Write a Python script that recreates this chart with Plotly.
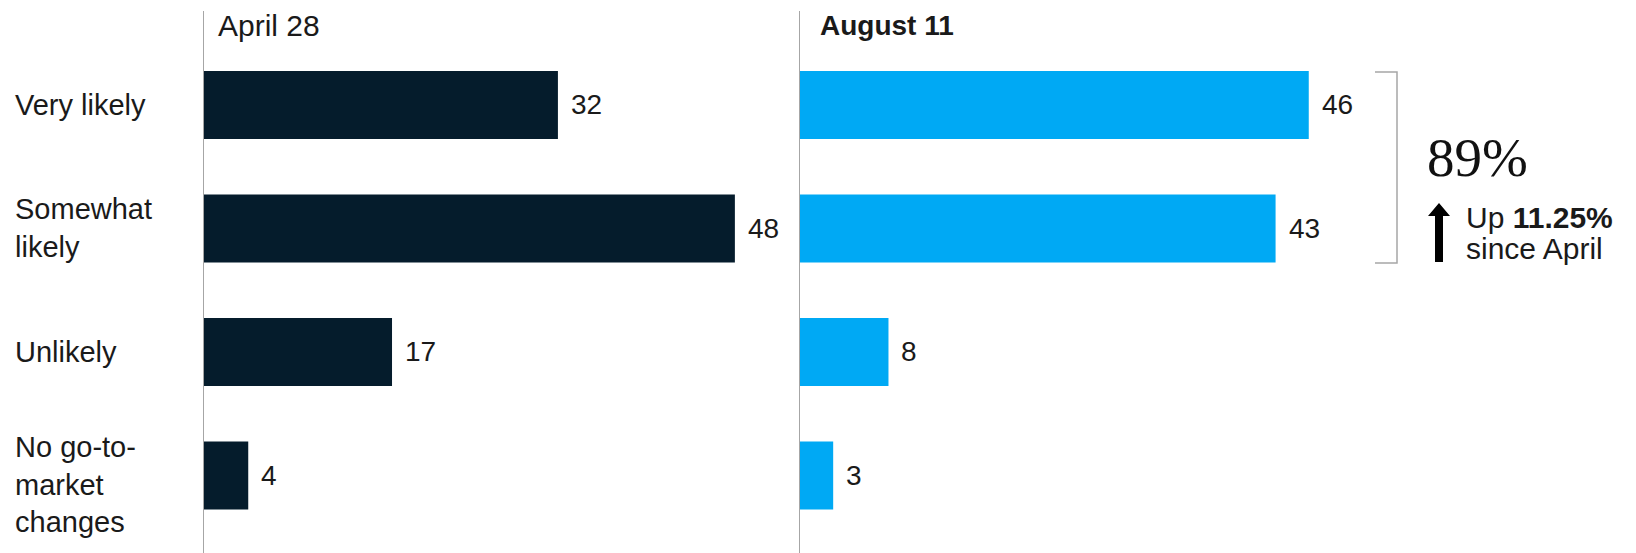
import plotly.graph_objects as go

# ---- data ----
categories = ["Very likely", "Somewhat likely", "Unlikely", "No go-to-market changes"]
category_labels = ["Very likely", "Somewhat<br>likely", "Unlikely", "No go-to-<br>market<br>changes"]
label_shifts = [0, 0, 0, -9]
april_values = [32, 48, 17, 4]
august_values = [46, 43, 8, 3]
panel_titles = ["April 28", "<b>August 11</b>"]
headline_value = "89%"
headline_line1 = "Up <b>11.25%</b>"
headline_line2 = "since April"

W, H = 1636, 553
FONT = "Liberation Sans, Arial, sans-serif"
TXT = "#1a1a1a"
DARK = "#051C2C"
BLUE = "#00A9F4"
GRAY = "#a6a6a6"

def px(x):
    return x / W

def py(y):
    return 1 - y / H

fig = go.Figure()
fig.add_trace(go.Bar(x=april_values, y=categories, orientation="h", width=0.55,
                     marker=dict(color=DARK, line=dict(width=0)),
                     xaxis="x", yaxis="y", hoverinfo="skip"))
fig.add_trace(go.Bar(x=august_values, y=categories, orientation="h", width=0.55,
                     marker=dict(color=BLUE, line=dict(width=0)),
                     xaxis="x2", yaxis="y2", hoverinfo="skip"))

ppu = 11.06
xmax = 50
dom_top = 542 / H
yrange = [3.628, -0.761]

axis_common = dict(showgrid=False, zeroline=False, showticklabels=False, ticks="")
fig.update_layout(
    width=W, height=H,
    margin=dict(l=0, r=0, t=0, b=0),
    paper_bgcolor="white", plot_bgcolor="white",
    showlegend=False,
    xaxis=dict(domain=[px(204), px(204 + xmax * ppu)], range=[0, xmax], visible=False),
    xaxis2=dict(domain=[px(800), px(800 + xmax * ppu)], range=[0, xmax], visible=False),
    yaxis=dict(domain=[0, dom_top], range=yrange, anchor="x", showline=True,
               linecolor=GRAY, linewidth=1, categoryorder="array",
               categoryarray=categories, **axis_common),
    yaxis2=dict(domain=[0, dom_top], range=yrange, anchor="x2", showline=True,
                linecolor=GRAY, linewidth=1, categoryorder="array",
                categoryarray=categories, **axis_common),
)

annotations = []
# panel titles
annotations.append(dict(text=panel_titles[0], x=px(216), y=py(26), xref="paper", yref="paper",
                        xanchor="left", yanchor="middle", showarrow=False,
                        font=dict(family=FONT, size=30, color=TXT)))
annotations.append(dict(text=panel_titles[1], x=px(818), y=py(26), xref="paper", yref="paper",
                        xanchor="left", yanchor="middle", showarrow=False,
                        font=dict(family=FONT, size=28, color=TXT)))
# category labels
for cat, lab, sh in zip(categories, category_labels, label_shifts):
    annotations.append(dict(text=lab, x=px(13), y=cat, xref="paper", yref="y",
                            xanchor="left", yanchor="middle", align="left", showarrow=False,
                            yshift=sh, font=dict(family=FONT, size=29, color=TXT)))
# value labels
for cat, v in zip(categories, april_values):
    annotations.append(dict(text=str(v), x=v, y=cat, xref="x", yref="y", xanchor="left",
                            yanchor="middle", xshift=11, showarrow=False,
                            font=dict(family=FONT, size=28, color=TXT)))
for cat, v in zip(categories, august_values):
    annotations.append(dict(text=str(v), x=v, y=cat, xref="x2", yref="y2", xanchor="left",
                            yanchor="middle", xshift=11, showarrow=False,
                            font=dict(family=FONT, size=28, color=TXT)))
# headline
annotations.append(dict(text=headline_value, x=px(1425), y=py(157), xref="paper", yref="paper",
                        xanchor="left", yanchor="middle", showarrow=False,
                        font=dict(family="Liberation Serif, Times New Roman, serif", size=55, color="#111")))
annotations.append(dict(text=headline_line1, x=px(1464), y=py(217), xref="paper", yref="paper",
                        xanchor="left", yanchor="middle", showarrow=False,
                        font=dict(family=FONT, size=30, color=TXT)))
annotations.append(dict(text=headline_line2, x=px(1464), y=py(248), xref="paper", yref="paper",
                        xanchor="left", yanchor="middle", showarrow=False,
                        font=dict(family=FONT, size=30, color=TXT)))
fig.update_layout(annotations=annotations)

# bracket and arrow (decorations)
bracket = (f"M {px(1375)},{py(72)} L {px(1397)},{py(72)} "
           f"L {px(1397)},{py(263)} L {px(1375)},{py(263)}")
arrow = (f"M {px(1435)},{py(262)} L {px(1443)},{py(262)} L {px(1443)},{py(216)} "
         f"L {px(1450)},{py(216)} L {px(1439)},{py(203)} L {px(1428)},{py(216)} "
         f"L {px(1435)},{py(216)} Z")
fig.update_layout(shapes=[
    dict(type="path", path=bracket, xref="paper", yref="paper",
         line=dict(color=GRAY, width=1.5)),
    dict(type="path", path=arrow, xref="paper", yref="paper",
         fillcolor="#000", line=dict(color="#000", width=0)),
])

fig.write_html("out.html", config={"displayModeBar": False},
               post_script="document.body.style.margin='0';document.body.style.overflow='hidden';")
